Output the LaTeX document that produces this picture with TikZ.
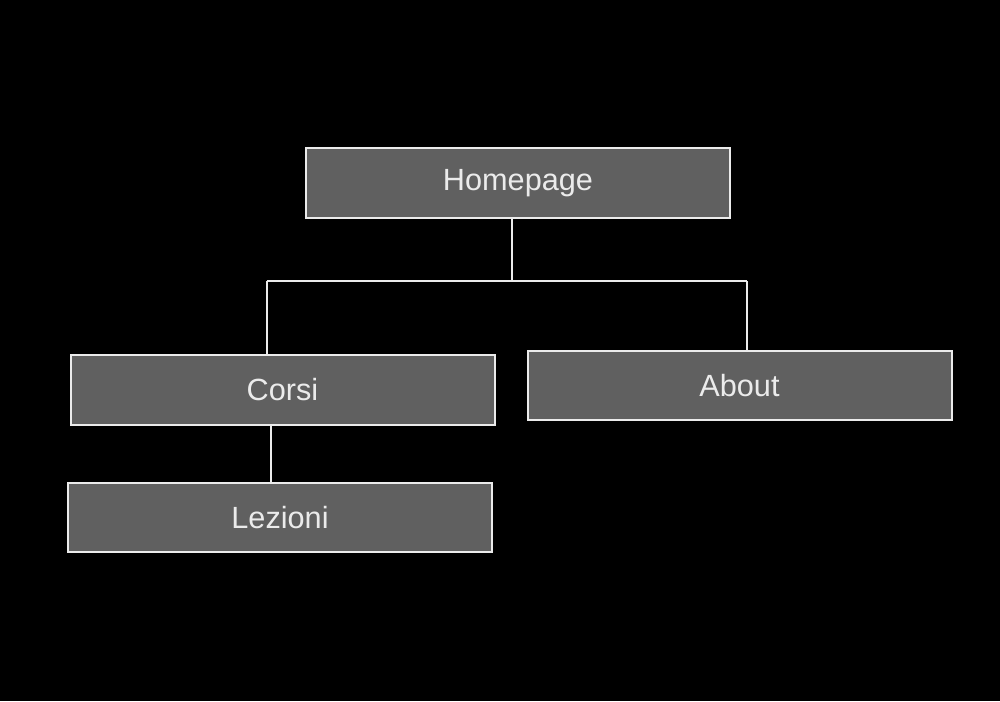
\documentclass[tikz,border=0pt]{standalone}
\usepackage{fontspec}
\setmainfont{Liberation Sans}
\definecolor{boxfill}{RGB}{96,96,96}
\definecolor{edge}{RGB}{235,235,235}
\begin{document}
\begin{tikzpicture}[x=0.75pt,y=-0.75pt,
  pagebox/.style={draw=edge,fill=boxfill,line width=1.5pt,minimum width=318pt,minimum height=52pt,inner sep=0pt,text=edge,font=\fontsize{23}{27}\selectfont},
  link/.style={draw=edge,line width=1.4pt}]
\fill[black] (0,0) rectangle (1000,701);
\useasboundingbox (0,0) rectangle (1000,701);
\node[pagebox] (home) at (518,183) {Homepage};
\node[pagebox] (corsi) at (282.5,390) {Corsi};
\node[pagebox] (about) at (739.5,385.5) {About};
\node[pagebox] (lez) at (280,517.5) {Lezioni};
\coordinate (j) at (512,281);
\coordinate (jl) at (267,281);
\coordinate (jr) at (747,281);
\draw[link] (home.south -| j) -- (j);
\draw[link] (jl) -- (jr);
\draw[link] (jl) -- (corsi.north -| jl);
\draw[link] (jr) -- (about.north -| jr);
\draw[link] (corsi.south -| 271,0) -- (lez.north -| 271,0);
\end{tikzpicture}
\end{document}
